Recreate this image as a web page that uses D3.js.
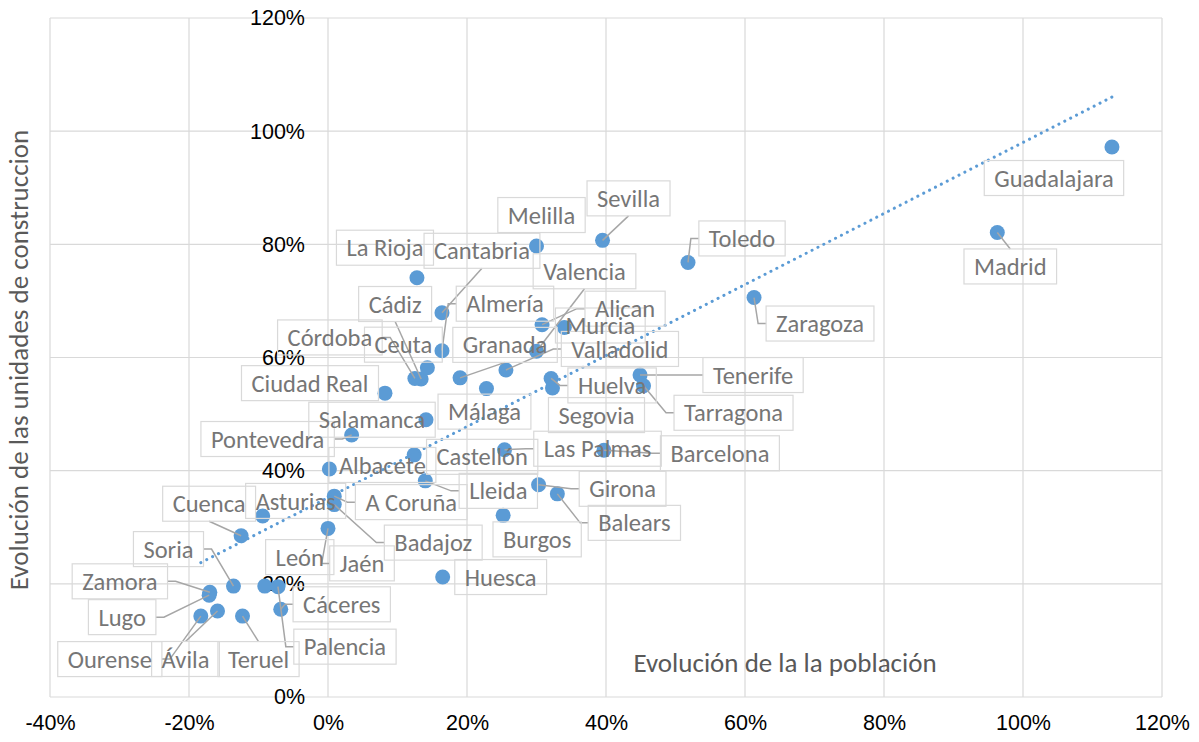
<!DOCTYPE html>
<html>
<head>
<meta charset="utf-8">
<script src="https://cdn.jsdelivr.net/npm/d3@7"></script>
<style>
  body { margin: 0; background: #fff; }
  svg { font-family: Calibri, Carlito, Lato, sans-serif; }
</style>
</head>
<body>
<div class="chart"></div>
<script>
const w = 1199;
const h = 742;

// data (percent)
const provinces = [
  "Guadalajara", "Madrid", "Zaragoza", "Toledo", "Sevilla", "Melilla", "La Rioja", "Cantabria",
  "Almería", "Valencia", "Alican", "Murcia", "Cádiz", "Córdoba", "Ceuta", "Granada",
  "Valladolid", "Ciudad Real", "Tenerife", "Huelva", "Tarragona", "Salamanca", "Málaga", "Segovia",
  "Pontevedra", "Las Palmas", "Barcelona", "Castellón", "Albacete", "Lleida", "Girona", "Cuenca",
  "Asturias", "A Coruña", "Balears", "Badajoz", "Burgos", "Soria", "León", "Jaén",
  "Zamora", "Huesca", "Cáceres", "Lugo", "Palencia", "Ourense", "Ávila", "Teruel"
];
const popGrowth = [
  112.8, 96.3, 61.3, 51.8, 39.5, 30.0, 12.8, 16.4,
  16.4, 30.0, 30.8, 34.0, 13.4, 12.5, 14.3, 19.0,
  25.6, 8.2, 44.9, 32.1, 45.4, 14.1, 22.8, 32.3,
  3.4, 25.4, 39.7, 12.4, 0.2, 14.0, 30.3, -12.5,
  -9.4, 0.9, 33.0, 0.9, 25.2, -13.6, -9.1, 0.0,
  -17.0, 16.5, -6.8, -17.1, -7.2, -18.3, -15.9, -12.3
];
const unitsGrowth = [
  97.2, 82.1, 70.6, 76.8, 80.7, 79.7, 74.1, 67.9,
  61.2, 61.1, 65.8, 65.3, 56.2, 56.3, 58.2, 56.4,
  57.8, 53.7, 56.9, 56.3, 55.0, 49.0, 54.5, 54.6,
  46.3, 43.7, 43.6, 42.8, 40.3, 38.2, 37.5, 28.5,
  32.0, 35.5, 35.9, 34.0, 32.1, 19.6, 19.6, 29.8,
  18.5, 21.2, 15.5, 18.0, 19.5, 14.3, 15.2, 14.3
];
const xTicks = [-40, -20, 0, 20, 40, 60, 80, 100, 120];
const yTicks = [0, 20, 40, 60, 80, 100, 120];
const xTitle = "Evolución de la la población";
const yTitle = "Evolución de las unidades de construccion";

// where each data label sits relative to its point: [dx, dy, leader line]
const labelPos = {
  "Guadalajara": [-58, 31, 0], "Madrid": [13, 34, 1], "Zaragoza": [66, 26, 1], "Toledo": [54, -24, 1],
  "Sevilla": [26, -42, 1], "Melilla": [5, -31, 0], "La Rioja": [-32, -30, 0], "Cantabria": [40, -62, 1],
  "Almería": [63, -47, 1], "Valencia": [48, -80, 1], "Alican": [83, -16, 1], "Murcia": [36, -2, 0],
  "Cádiz": [-26, -75, 1], "Córdoba": [-85, -41, 1], "Ceuta": [-24, -23, 0], "Granada": [45, -33, 1],
  "Valladolid": [114, -21, 1], "Ciudad Real": [-75, -10, 0], "Tenerife": [113, 0, 1], "Huelva": [61, 7, 1],
  "Tarragona": [90, 27, 1], "Salamanca": [-54, 0, 0], "Málaga": [-2, 23, 0], "Segovia": [44, 27, 0],
  "Pontevedra": [-84, 4, 1], "Las Palmas": [93, -1, 1], "Barcelona": [116, 3, 1], "Castellón": [68, 2, 0],
  "Albacete": [53, -4, 0], "Lleida": [73, 10, 1], "Girona": [84, 4, 1], "Cuenca": [-32, -32, 1],
  "Asturias": [33, -15, 0], "A Coruña": [77, 6, 1], "Balears": [77, 29, 1], "Badajoz": [99, 38, 1],
  "Burgos": [34, 24, 0], "Soria": [-65, -37, 1], "León": [35, -29, 0], "Jaén": [34, 35, 1],
  "Zamora": [-90, -11, 1], "Huesca": [58, 0, 0], "Cáceres": [61, -5, 1], "Lugo": [-87, 22, 1],
  "Palencia": [67, 60, 1], "Ourense": [-91, 43, 1], "Ávila": [-32, 48, 1], "Teruel": [16, 43, 1]
};

const data = provinces.map((name, i) => ({ name: name, x: popGrowth[i] / 100, y: unitsGrowth[i] / 100 }));

const svg = d3.select(".chart").append("svg").attr("width", w).attr("height", h);

//scales
const xScale = d3.scaleLinear().domain([-0.4, 1.2]).range([50, 1162]);
const yScale = d3.scaleLinear().domain([0, 1.2]).range([697, 18]);
const pct = (d) => Math.round(d * 100) + "%";

//gridlines
svg.append("g")
  .selectAll("line.v")
  .data(xTicks)
  .enter()
  .append("line")
  .attr("x1", (d) => xScale(d / 100))
  .attr("x2", (d) => xScale(d / 100))
  .attr("y1", yScale(0))
  .attr("y2", yScale(1.2))
  .attr("stroke", "#d9d9d9")
  .attr("stroke-width", 1.2);

svg.append("g")
  .selectAll("line.h")
  .data(yTicks)
  .enter()
  .append("line")
  .attr("x1", xScale(-0.4))
  .attr("x2", xScale(1.2))
  .attr("y1", (d) => yScale(d / 100))
  .attr("y2", (d) => yScale(d / 100))
  .attr("stroke", "#d9d9d9")
  .attr("stroke-width", 1.2);

//axes
const xAxis = d3.axisBottom(xScale).tickValues(xTicks.map((d) => d / 100)).tickFormat(pct).tickSize(0).tickPadding(18);
const yAxis = d3.axisLeft(yScale).tickValues(yTicks.map((d) => d / 100)).tickFormat(pct).tickSize(0).tickPadding(23);

const gx = svg.append("g").attr("transform", `translate(0, ${yScale(0)})`).call(xAxis);
const gy = svg.append("g").attr("transform", `translate(${xScale(0)}, 0)`).call(yAxis);
[gx, gy].forEach((g) => {
  g.select(".domain").remove();
  g.selectAll("text").attr("font-size", 21.5).attr("fill", "#000").attr("font-family", null);
});

//axis titles
svg.append("text")
  .attr("x", 785)
  .attr("y", 663)
  .attr("dy", "0.35em")
  .attr("text-anchor", "middle")
  .attr("font-size", 27)
  .attr("fill", "#595959")
  .text(xTitle);

svg.append("text")
  .attr("transform", "translate(19, 360) rotate(-90)")
  .attr("dy", "0.35em")
  .attr("text-anchor", "middle")
  .attr("font-size", 27)
  .attr("fill", "#595959")
  .text(yTitle);

//trendline (least squares fit)
const mx = d3.mean(data, (d) => d.x);
const my = d3.mean(data, (d) => d.y);
const slope = d3.sum(data, (d) => (d.x - mx) * (d.y - my)) / d3.sum(data, (d) => (d.x - mx) ** 2);
const intercept = my - slope * mx;
const ext = d3.extent(data, (d) => d.x);

//points
svg.append("g")
  .selectAll("circle")
  .data(data)
  .enter()
  .append("circle")
  .attr("cx", (d) => xScale(d.x))
  .attr("cy", (d) => yScale(d.y))
  .attr("r", 7.5)
  .attr("fill", "#5b9bd5");

svg.append("line")
  .attr("x1", xScale(ext[0]))
  .attr("y1", yScale(intercept + slope * ext[0]))
  .attr("x2", xScale(ext[1]))
  .attr("y2", yScale(intercept + slope * ext[1]))
  .attr("stroke", "#5b9bd5")
  .attr("stroke-width", 3)
  .attr("stroke-linecap", "round")
  .attr("stroke-dasharray", "0.1 6.5");

//data labels
const leaders = svg.append("g");
const labels = svg.append("g");

data.forEach((d) => {
  const p = labelPos[d.name];
  const px = xScale(d.x);
  const py = yScale(d.y);
  const cx = px + p[0];
  const cy = py + p[1];

  const t = labels.append("text")
    .attr("x", cx)
    .attr("y", cy)
    .attr("dy", "0.35em")
    .attr("text-anchor", "middle")
    .attr("font-size", 24.5)
    .attr("fill", "#767676")
    .text(d.name);
  const tw = t.node().getComputedTextLength();
  const bw = tw + 20;
  const bh = 35;
  const bx = cx - bw / 2;
  const by = cy - bh / 2;

  labels.insert("rect", "text")
    .attr("x", bx)
    .attr("y", by)
    .attr("width", bw)
    .attr("height", bh)
    .attr("fill", "none")
    .attr("stroke", "#d9d9d9")
    .attr("stroke-width", 1.2);

  if (p[2]) {
    let pts;
    if (px < bx || px > bx + bw) {
      // side of the box, short horizontal stub then to the point
      const ax = px < bx ? bx : bx + bw;
      const sx = px < bx ? ax - 8 : ax + 8;
      pts = [[ax, cy], [sx, cy], [px, py]];
    } else {
      // middle of top or bottom edge
      pts = [[cx, py < by ? by : by + bh], [px, py]];
    }
    leaders.append("path")
      .attr("d", d3.line()(pts))
      .attr("fill", "none")
      .attr("stroke", "#a6a6a6")
      .attr("stroke-width", 1.5);
  }
});
</script>
</body>
</html>
